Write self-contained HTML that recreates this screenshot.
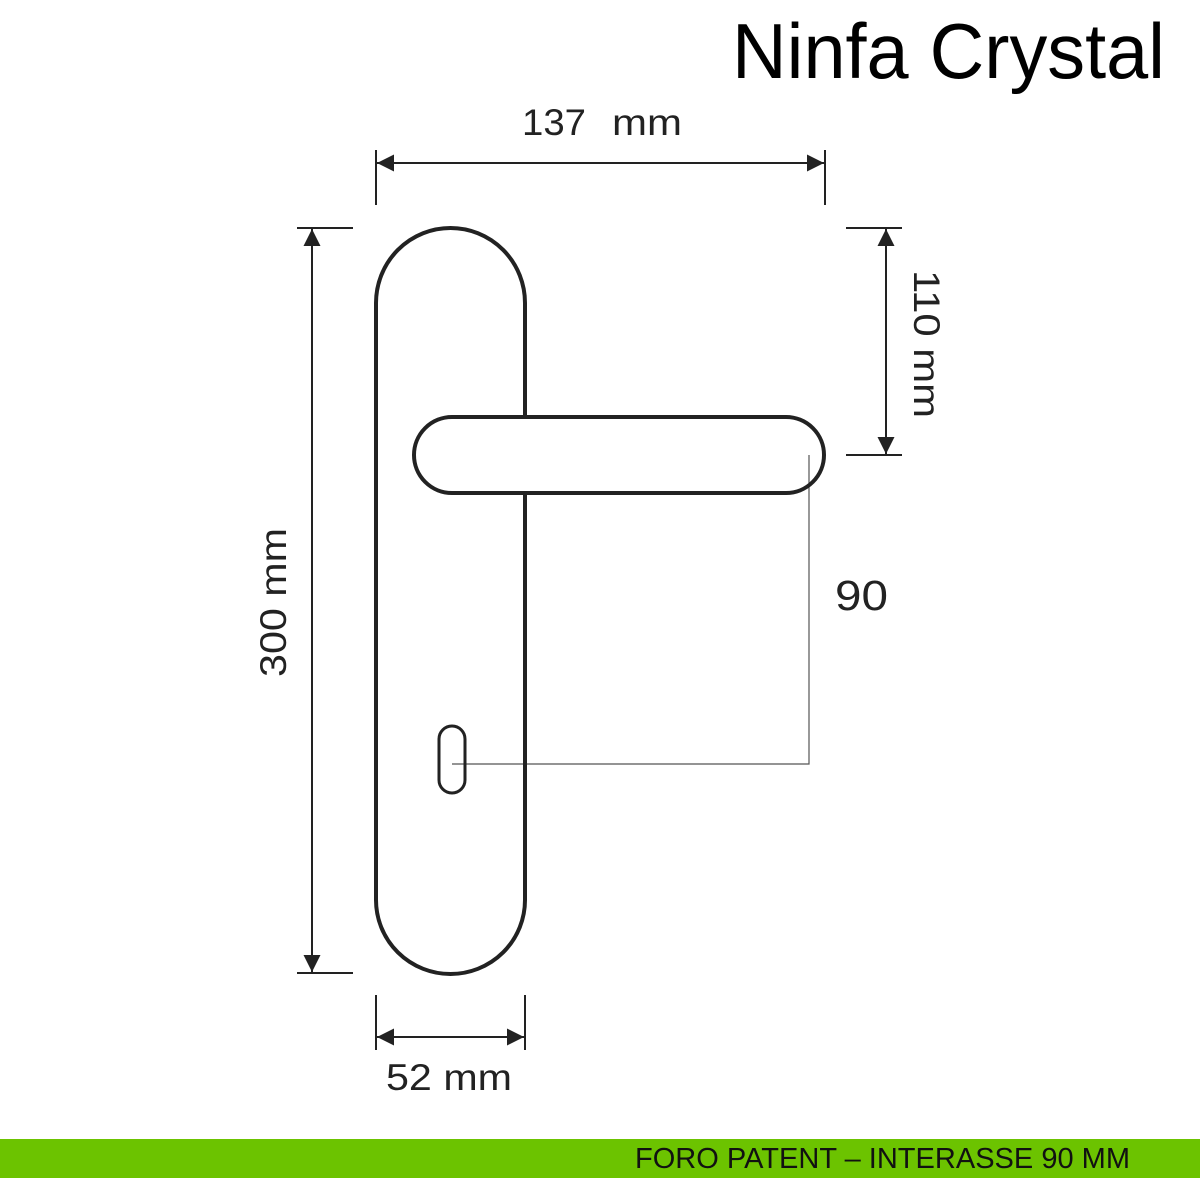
<!DOCTYPE html>
<html><head><meta charset="utf-8"><style>html,body{margin:0;padding:0;background:#fff}svg{display:block}</style></head>
<body>
<svg width="1200" height="1200" viewBox="0 0 1200 1200" xmlns="http://www.w3.org/2000/svg" font-family="Liberation Sans, sans-serif">
<defs>
<marker id="a" viewBox="0 0 10 10" refX="10" refY="5" markerWidth="17" markerHeight="17" markerUnits="userSpaceOnUse" orient="auto-start-reverse"><path d="M0,0 L10,5 L0,10 z" fill="#222"/></marker>
</defs>
<text x="732" y="78" font-size="78" textLength="433" lengthAdjust="spacingAndGlyphs" fill="#000">Ninfa Crystal</text>
<g stroke="#222" stroke-width="2" fill="none">
<line x1="376" y1="150" x2="376" y2="205"/>
<line x1="825" y1="150" x2="825" y2="205"/>
<line x1="377" y1="163" x2="824" y2="163" marker-start="url(#a)" marker-end="url(#a)"/>
<line x1="846" y1="228" x2="902" y2="228"/>
<line x1="846" y1="455" x2="902" y2="455"/>
<line x1="886" y1="229" x2="886" y2="454" marker-start="url(#a)" marker-end="url(#a)"/>
<line x1="297" y1="228" x2="353" y2="228"/>
<line x1="297" y1="973" x2="353" y2="973"/>
<line x1="312" y1="229" x2="312" y2="972" marker-start="url(#a)" marker-end="url(#a)"/>
<line x1="376" y1="995" x2="376" y2="1050"/>
<line x1="525" y1="995" x2="525" y2="1050"/>
<line x1="377" y1="1037" x2="524" y2="1037" marker-start="url(#a)" marker-end="url(#a)"/>
</g>
<g stroke="#555" stroke-width="1.2" fill="none">
<polyline points="452,764 809,764 809,455"/>
</g>
<g stroke="#222" stroke-width="4" fill="none">
<path d="M376,900 L376,303 A74.5,75 0 0 1 525,303 L525,417"/>
<path d="M525,493 L525,900 A74.5,74 0 0 1 376,900"/>
<rect x="414" y="417" width="410" height="76" rx="38" ry="38"/>
<rect x="439" y="726" width="26" height="67" rx="13" ry="13" stroke-width="3"/>
</g>
<g fill="#222" font-size="37">
<text x="522" y="135" textLength="64" lengthAdjust="spacingAndGlyphs">137</text>
<text x="612" y="135" textLength="70" lengthAdjust="spacingAndGlyphs">mm</text>
<text x="835" y="610" font-size="43" textLength="53" lengthAdjust="spacingAndGlyphs">90</text>
<text x="386" y="1090" textLength="126" lengthAdjust="spacingAndGlyphs">52 mm</text>
<text transform="translate(914,270) rotate(90)" textLength="148" lengthAdjust="spacingAndGlyphs">110 mm</text>
<text transform="translate(286,677) rotate(-90)" textLength="149" lengthAdjust="spacingAndGlyphs">300 mm</text>
</g>
<rect x="0" y="1139" width="1200" height="39" fill="#6cc300"/>
<text x="635" y="1168" font-size="29" fill="#111" textLength="495" lengthAdjust="spacingAndGlyphs">FORO PATENT – INTERASSE 90 MM</text>
</svg>
</body></html>
